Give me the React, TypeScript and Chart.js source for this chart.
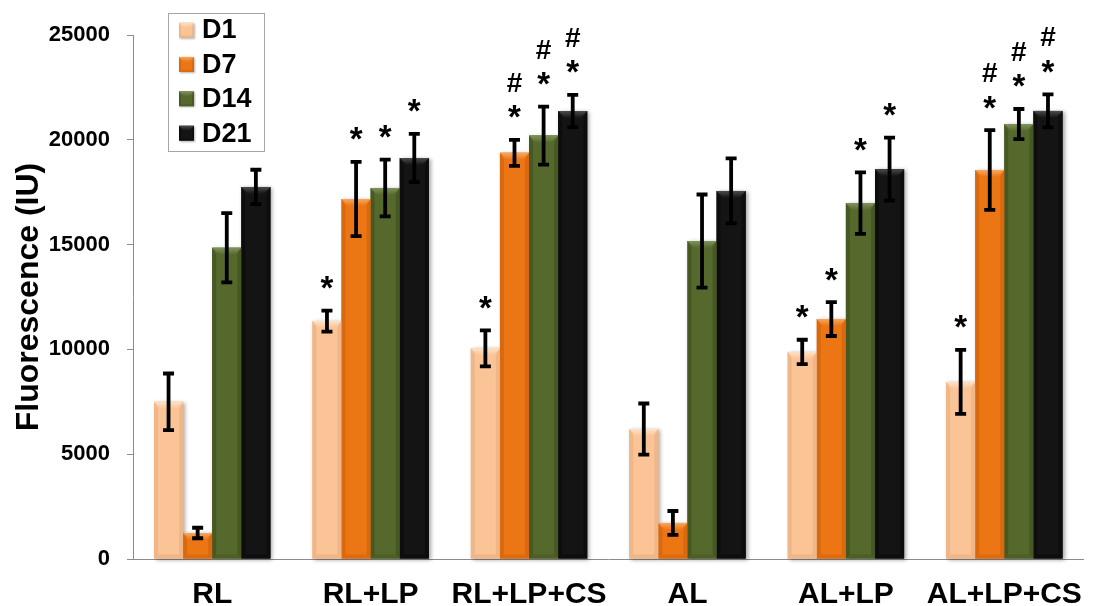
import { useEffect, useRef } from 'react';
import { Chart, registerables } from 'chart.js';

Chart.register(...registerables);

// ---------- data ----------
const categories = ['RL', 'RL+LP', 'RL+LP+CS', 'AL', 'AL+LP', 'AL+LP+CS'];
const seriesLabels = ['D1', 'D7', 'D14', 'D21'];

const d1 = [7500, 11350, 10050, 6200, 9880, 8450];
const d7 = [1240, 17175, 19380, 1720, 11450, 18560];
const d14 = [14850, 17700, 20200, 15170, 16980, 20750];
const d21 = [17750, 19130, 21370, 17560, 18600, 21380];

const d1Err = [1350, 500, 860, 1220, 580, 1530];
const d7Err = [250, 1770, 620, 570, 810, 1900];
const d14Err = [1650, 1350, 1380, 2220, 1470, 720];
const d21Err = [820, 1150, 770, 1550, 1500, 790];

// significance marks, listed bottom to top
const d1Marks = [[], ['*'], ['*'], [], ['*'], ['*']];
const d7Marks = [[], ['*'], ['*', '#'], [], ['*'], ['*', '#']];
const d14Marks = [[], ['*'], ['*', '#'], [], ['*'], ['*', '#']];
const d21Marks = [[], ['*'], ['*', '#'], [], ['*'], ['*', '#']];

const yTicks = [0, 5000, 10000, 15000, 20000, 25000];

// ---------- styles ----------
const FONT = '"Liberation Sans", Arial, Helvetica, sans-serif';
const palettes = [
  { base: '#FAC497', top: '#FEE2C8', side: 'rgba(200,130,80,0.22)', bottom: '#E8A877' },
  { base: '#EC7614', top: '#F8A860', side: 'rgba(150,60,0,0.22)', bottom: '#CC600A' },
  { base: '#56692D', top: '#80935A', side: 'rgba(20,30,0,0.22)', bottom: '#45561F' },
  { base: '#141414', top: '#4C4C4C', side: 'rgba(0,0,0,0.3)', bottom: '#050505' },
];

const allValues = [d1, d7, d14, d21];
const allErrs = [d1Err, d7Err, d14Err, d21Err];
const allMarks = [d1Marks, d7Marks, d14Marks, d21Marks];

function drawBevel(ctx: CanvasRenderingContext2D, x0: number, x1: number, top: number, bottom: number, pal: any, bTop = 7, bSide = 4) {
  const w = x1 - x0;
  const h = bottom - top;
  const bt = Math.min(bTop, h / 2, w / 2);
  const bs = Math.min(bSide, w / 2, h / 2);
  ctx.save();
  ctx.fillStyle = pal.side;
  ctx.beginPath();
  ctx.moveTo(x0, top);
  ctx.lineTo(x0 + bs, top + bt);
  ctx.lineTo(x0 + bs, bottom - bs);
  ctx.lineTo(x0, bottom);
  ctx.closePath();
  ctx.fill();
  ctx.beginPath();
  ctx.moveTo(x1, top);
  ctx.lineTo(x1 - bs, top + bt);
  ctx.lineTo(x1 - bs, bottom - bs);
  ctx.lineTo(x1, bottom);
  ctx.closePath();
  ctx.fill();
  const g = ctx.createLinearGradient(0, top, 0, top + bt);
  g.addColorStop(0, pal.top);
  g.addColorStop(1, pal.base);
  ctx.fillStyle = g;
  ctx.beginPath();
  ctx.moveTo(x0, top);
  ctx.lineTo(x1, top);
  ctx.lineTo(x1 - bt, top + bt);
  ctx.lineTo(x0 + bt, top + bt);
  ctx.closePath();
  ctx.fill();
  ctx.fillStyle = pal.bottom;
  ctx.globalAlpha = 0.5;
  ctx.beginPath();
  ctx.moveTo(x0, bottom);
  ctx.lineTo(x1, bottom);
  ctx.lineTo(x1 - bs, bottom - bs);
  ctx.lineTo(x0 + bs, bottom - bs);
  ctx.closePath();
  ctx.fill();
  ctx.restore();
}

const decorPlugin = {
  id: 'decor',
  beforeDatasetsDraw(chart: any) {
    const ctx = chart.ctx as CanvasRenderingContext2D;
    ctx.save();
    ctx.shadowColor = 'rgba(0,0,0,0.35)';
    ctx.shadowBlur = 4;
    ctx.shadowOffsetX = 2;
    ctx.shadowOffsetY = 1;
    chart.data.datasets.forEach((ds: any, i: number) => {
      const meta = chart.getDatasetMeta(i);
      meta.data.forEach((el: any) => {
        const { x, y, base, width } = el.getProps(['x', 'y', 'base', 'width'], true);
        ctx.fillStyle = palettes[i].base;
        ctx.fillRect(x - width / 2, y, width, base - y);
      });
    });
    ctx.restore();
  },
  afterDatasetsDraw(chart: any) {
    const ctx = chart.ctx as CanvasRenderingContext2D;
    const yScale = chart.scales.y;
    chart.data.datasets.forEach((ds: any, i: number) => {
      const meta = chart.getDatasetMeta(i);
      meta.data.forEach((el: any) => {
        const { x, y, base, width } = el.getProps(['x', 'y', 'base', 'width'], true);
        drawBevel(ctx, x - width / 2, x + width / 2, y, base, palettes[i]);
      });
    });
    ctx.save();
    ctx.strokeStyle = '#000';
    ctx.lineWidth = 3.8;
    ctx.lineCap = 'butt';
    chart.data.datasets.forEach((ds: any, i: number) => {
      const meta = chart.getDatasetMeta(i);
      meta.data.forEach((el: any, j: number) => {
        const v = allValues[i][j];
        const e = allErrs[i][j];
        const yt = yScale.getPixelForValue(v + e);
        const yb = yScale.getPixelForValue(v - e);
        const x = el.x;
        ctx.beginPath();
        ctx.moveTo(x, yt);
        ctx.lineTo(x, yb);
        ctx.moveTo(x - 5.5, yt);
        ctx.lineTo(x + 5.5, yt);
        ctx.moveTo(x - 5.5, yb);
        ctx.lineTo(x + 5.5, yb);
        ctx.stroke();
      });
    });
    ctx.restore();
    ctx.save();
    ctx.fillStyle = '#000';
    ctx.textAlign = 'center';
    ctx.textBaseline = 'alphabetic';
    chart.data.datasets.forEach((ds: any, i: number) => {
      const meta = chart.getDatasetMeta(i);
      meta.data.forEach((el: any, j: number) => {
        const marks = allMarks[i][j];
        if (!marks.length) return;
        const v = allValues[i][j];
        const e = allErrs[i][j];
        let cy = yScale.getPixelForValue(v + e) - 30;
        marks.forEach((m: string) => {
          if (m === '*') {
            const fs = 33;
            ctx.font = `bold ${fs}px ${FONT}`;
            ctx.fillText(m, el.x, cy + 0.56 * fs);
          } else {
            const fs = 28;
            ctx.font = `bold ${fs}px ${FONT}`;
            ctx.fillText(m, el.x, cy + 0.36 * fs);
          }
          cy -= 28;
        });
      });
    });
    ctx.restore();
  },
  afterDraw(chart: any) {
    const ctx = chart.ctx as CanvasRenderingContext2D;
    const area = chart.chartArea;
    const bx = area.left + 35;
    const by = 13;
    const bw = 96;
    const bh = 138;
    ctx.save();
    ctx.fillStyle = '#fff';
    ctx.fillRect(bx, by, bw, bh);
    ctx.strokeStyle = '#A6A6A6';
    ctx.lineWidth = 1;
    ctx.strokeRect(bx + 0.5, by + 0.5, bw, bh);
    ctx.font = `bold 27px ${FONT}`;
    ctx.textBaseline = 'middle';
    ctx.textAlign = 'left';
    chart.data.datasets.forEach((ds: any, i: number) => {
      const cy = by + 17 + i * 34.4;
      const sx = bx + 11;
      const s = 15;
      ctx.save();
      ctx.shadowColor = 'rgba(0,0,0,0.3)';
      ctx.shadowBlur = 2;
      ctx.shadowOffsetX = 1;
      ctx.shadowOffsetY = 1;
      ctx.fillStyle = palettes[i].base;
      ctx.fillRect(sx, cy - s / 2, s, s);
      ctx.restore();
      drawBevel(ctx, sx, sx + s, cy - s / 2, cy + s / 2, palettes[i], 5, 2);
      ctx.fillStyle = '#000';
      ctx.fillText(ds.label, bx + 34, cy + 1);
    });
    ctx.restore();
  },
};

export default function App() {
  const ref = useRef<HTMLCanvasElement | null>(null);
  useEffect(() => {
    if (!ref.current) return;
    const chart = new Chart(ref.current, {
      type: 'bar',
      data: {
        labels: categories,
        datasets: seriesLabels.map((label, i) => ({
          label,
          data: allValues[i],
          backgroundColor: palettes[i].base,
          borderWidth: 0,
          categoryPercentage: 0.735,
          barPercentage: 1.0,
        })),
      },
      options: {
        animation: false,
        responsive: false,
        devicePixelRatio: 1,
        layout: { padding: { top: 35, right: 2, left: 0, bottom: 0 } },
        plugins: { legend: { display: false }, tooltip: { enabled: false } },
        scales: {
          x: {
            grid: { display: true, drawOnChartArea: false, drawTicks: false },
            border: { display: true, color: '#8C8C8C', width: 1 },
            ticks: { color: '#000', font: { family: FONT, size: 30, weight: 'bold' }, padding: 18, maxRotation: 0 },
            afterFit: (scale: any) => { scale.height = 47; },
          },
          y: {
            min: 0,
            max: 25000,
            afterBuildTicks: (scale: any) => { scale.ticks = yTicks.map((v) => ({ value: v })); },
            grid: { display: true, drawOnChartArea: false, drawTicks: true, tickLength: 6, color: '#8C8C8C' },
            border: { display: true, color: '#8C8C8C', width: 1 },
            ticks: {
              color: '#000',
              font: { family: FONT, size: 22, weight: 'bold' },
              padding: 17,
              callback: (v: any) => String(v),
            },
            title: {
              display: true,
              text: 'Fluorescence (IU)',
              color: '#000',
              font: { family: FONT, size: 32, weight: 'bold' },
              padding: { top: 10, bottom: 0 },
            },
            afterFit: (scale: any) => { scale.width = 133; },
          },
        },
      },
      plugins: [decorPlugin],
    } as any);
    return () => chart.destroy();
  }, []);
  return (
    <div style={{ position: 'absolute', left: 0, top: 0, width: 1100, height: 606, background: '#fff' }}>
      <canvas ref={ref} width={1100} height={606} style={{ display: 'block' }} />
    </div>
  );
}
